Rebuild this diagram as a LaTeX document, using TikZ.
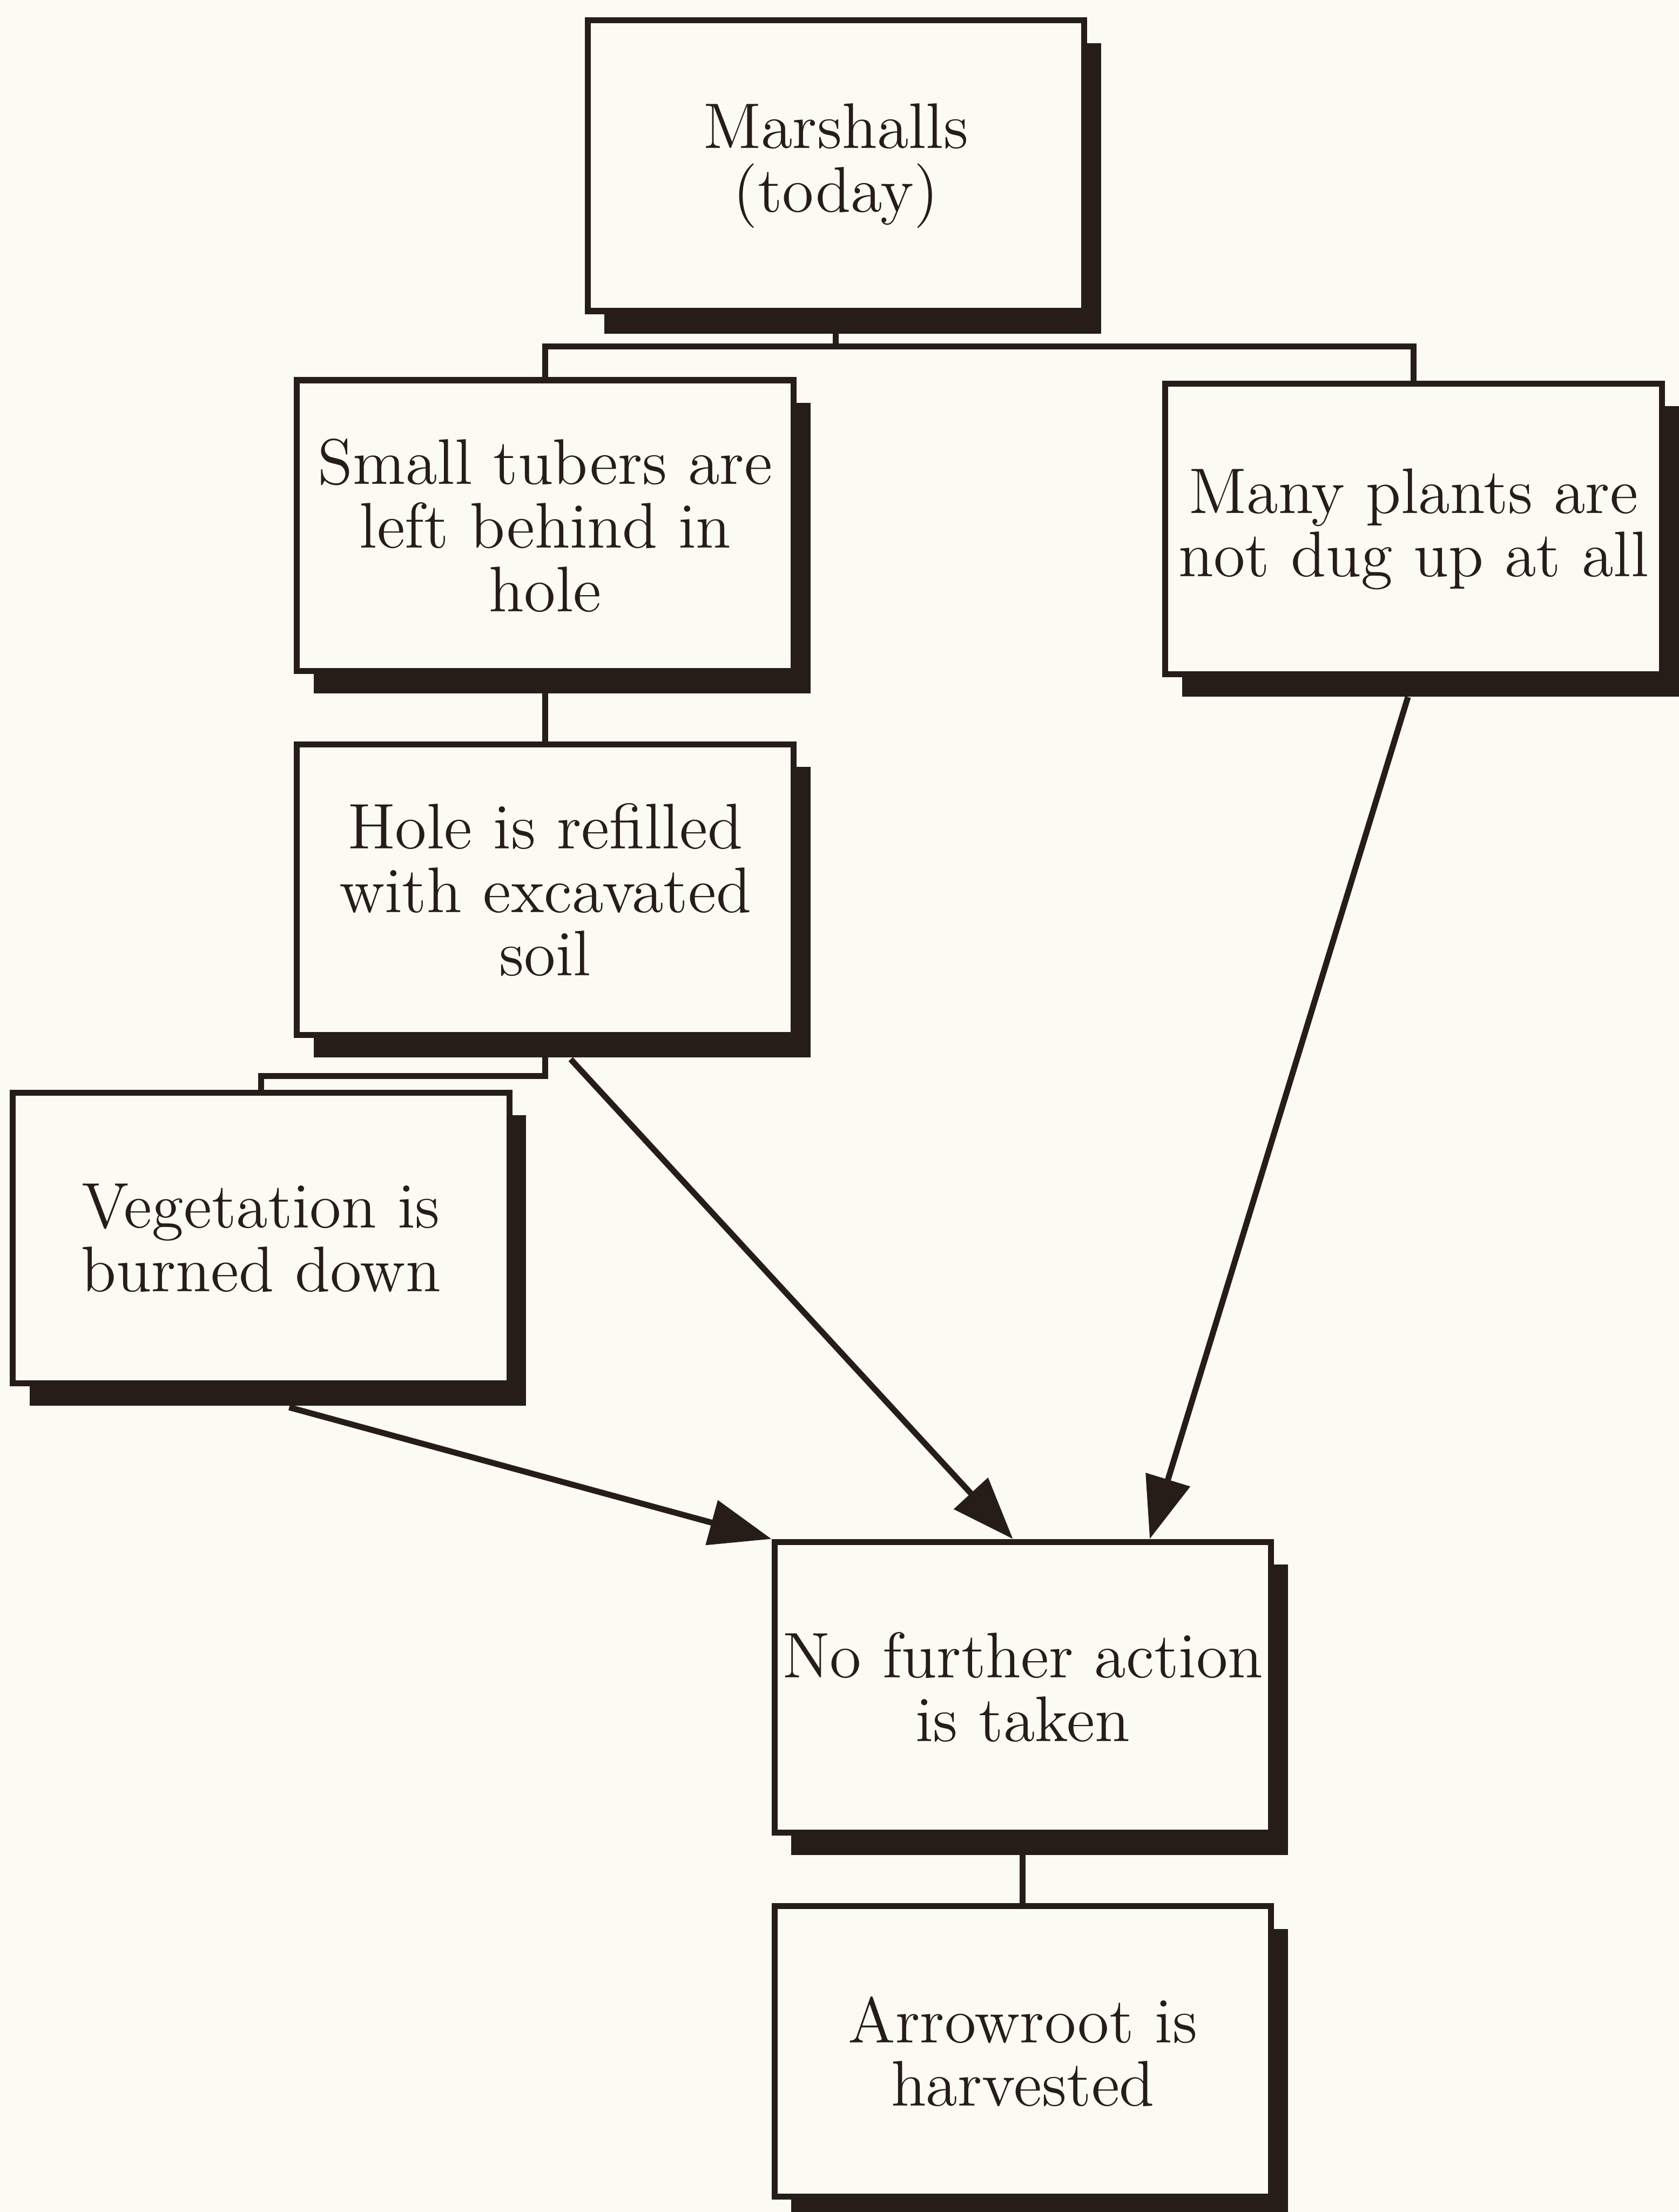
\documentclass[tikz,border=0pt]{standalone}
\usepackage{tikz}
\usetikzlibrary{shapes, arrows, arrows.meta, positioning, shadows}
\definecolor{ink}{RGB}{38,30,22}
\definecolor{paper}{RGB}{251,250,243}

\begin{document}
\begin{tikzpicture}[>={Triangle[length=4.4mm, width=3.2mm]}, color=ink, line width=1.2pt, node distance=0.48cm,
  box/.style={rectangle, draw=ink, fill=paper, minimum width=3.52cm, minimum height=2.06cm, align=center, inner sep=1pt,
    drop shadow={shadow xshift=1.2mm, shadow yshift=-1.6mm, fill=ink, opacity=1}}]
\tikzstyle{every node}=[font=\fontsize{13}{12.8}\selectfont]
\fill[paper] (0,0) rectangle (11.90,-15.68);
\useasboundingbox (0,0) rectangle (11.90,-15.68);
\node[box](marsh) at (5.925,-1.175) {Marshalls\\(today)};
\node[box](tub) at (3.865,-3.725) {Small tubers are\\left behind in\\hole};
\node[box](plants) at (10.02,-3.75) {Many plants are\\not dug up at all};
\node[box](hole)[below = of tub] {Hole is refilled\\with excavated\\soil};
\node[box](veg) at (1.85,-8.775) {Vegetation is\\burned down};
\node[box](noact) at (7.25,-11.96) {No further action\\is taken};
\node[box](harv)[below = of noact] {Arrowroot is\\harvested};
\draw (marsh.south) -- ++(0,-0.23) -| (tub.north);
\draw (marsh.south) -- ++(0,-0.23) -| (plants.north);
\draw (tub.south) -- (hole.north);
\draw (hole.south) -- ++(0,-0.27) -| (veg.north);
\draw (noact.south) -- (harv.north);
\draw[->] ([xshift=0.18cm, yshift=-0.15cm]hole.south) -- ([xshift=-0.07cm]noact.north);
\draw[->] ([xshift=-0.04cm, yshift=-0.14cm]plants.south) -- ([xshift=0.9cm]noact.north);
\draw[->] ([xshift=0.2cm, yshift=-0.15cm]veg.south) -- (noact.north west);

\end{tikzpicture}
\end{document}
